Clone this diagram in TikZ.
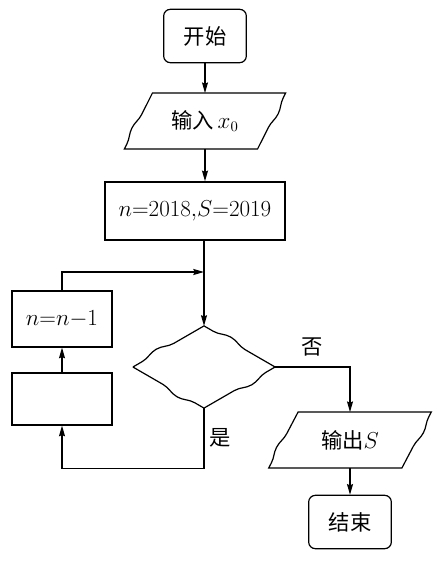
\documentclass[tikz,border=0pt]{standalone}
\usepackage{fontspec}
\newfontfamily\cjk{Noto Sans CJK SC}
\usetikzlibrary{shapes.geometric, arrows.meta, decorations.pathmorphing}

\begin{document}
\begin{tikzpicture}[
    x=0.75pt, y=-0.75pt,
    line width=0.9pt,
    font=\fontsize{16}{19}\selectfont,
    terminal/.style={rectangle, draw, rounded corners=5pt, minimum width=62pt, minimum height=40pt, font=\fontsize{16}{19}\selectfont\cjk},
    io/.style={rectangle, minimum width=99pt, minimum height=41pt, inner sep=0pt},
    process/.style={rectangle, draw, minimum width=75pt, minimum height=41pt},
    decision/.style={diamond, minimum width=105.75pt, minimum height=60.75pt, inner sep=0pt},
    wavy/.style={decoration={snake, segment length=40pt, amplitude=2pt, pre length=4pt, post length=4pt}},
    wavydiam/.style={decoration={snake, segment length=44pt, amplitude=2.8pt, pre length=8pt, post length=8pt}},
    arrow/.style={-{Stealth[length=8pt, width=4.5pt, inset=1pt]}},
    tag/.style={font=\fontsize{16}{19}\selectfont\cjk, inner sep=1pt},
]
\useasboundingbox (0,0) rectangle (442,563);

% Nodes
\node[terminal] (start) at (205,36) {开始};
\node[io] (in) at (205,121) {\cjk 输入\,$x_0$};
\node[process, line width=1.6pt, minimum width=135pt, minimum height=43pt, font=\fontsize{17.5}{20}\selectfont] (init) at (195,211) {$n{=}2018{,}S{=}2019$};
\node[process, minimum height=42pt] (upd) at (62,319) {$n{=}n{-}1$};
\node[process, minimum height=39pt] (calc) at (62,399) {};
\node[decision] (dec) at (204,367) {};
\node[io] (out) at (350,440) {\cjk 输出$S$};
\node[terminal] (stop) at (350,522) {结束};
\coordinate (join) at (204,272);

% Wavy outlines
\draw ([xshift=-10.5pt]in.south west) decorate[wavy]{-- ([xshift=10.5pt]in.north west)} -- ([xshift=10.5pt]in.north east) decorate[wavy]{-- ([xshift=-10.5pt]in.south east)} -- cycle;
\draw ([xshift=-11pt]out.south west) decorate[wavy]{-- ([xshift=11pt]out.north west)} -- ([xshift=11pt]out.north east) decorate[wavy]{-- ([xshift=-11pt]out.south east)} -- cycle;
\draw (dec.west) decorate[wavydiam]{-- (dec.north)} decorate[wavydiam]{-- (dec.east)} decorate[wavydiam]{-- (dec.south)} decorate[wavydiam]{-- (dec.west)};

% Arrows
\draw[arrow] (start) -- (in);
\draw[arrow] (in) -- (in.south |- init.north);
\draw[arrow] (init.south -| dec.north) -- (dec.north);
\draw[arrow] (dec.east) -| node[tag, pos=0.25, above=7pt] {否} (out.north);
\draw[arrow] (dec.south) -- node[tag, right=3pt] {是} ++(0,60) -| (calc.south);
\draw[arrow] (calc) -- (upd);
\draw[arrow] (upd.north) |- (join);
\draw[arrow] (out) -- (stop);

\end{tikzpicture}
\end{document}
